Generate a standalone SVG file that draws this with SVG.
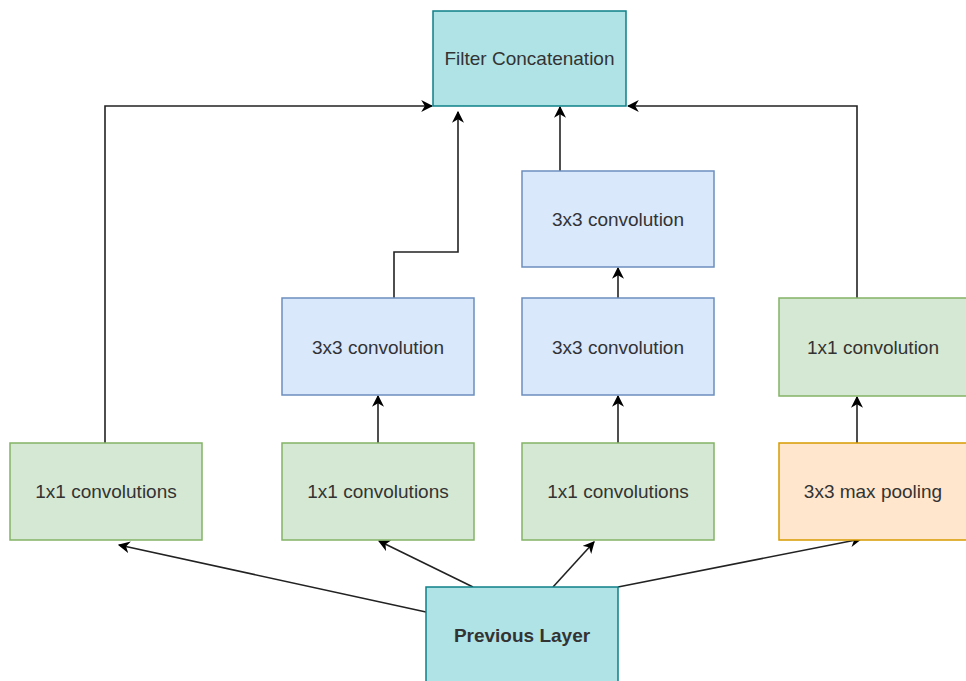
<svg xmlns="http://www.w3.org/2000/svg" width="966" height="681" viewBox="0 0 966 681">
<defs>
<marker id="ah" viewBox="0 0 10 10" refX="9" refY="5" markerWidth="12" markerHeight="12" markerUnits="userSpaceOnUse" orient="auto">
<path d="M0,0 L10,5 L0,10 L3,5 Z" fill="#000"/>
</marker>
</defs>
<style>
.t{font-family:"Liberation Sans",Arial,sans-serif;font-size:19px;fill:#333;text-anchor:middle;dominant-baseline:central}
.teal{fill:#b0e3e6;stroke:#0e8088;stroke-width:1.5}
.green{fill:#d5e8d4;stroke:#82b366;stroke-width:1.5}
.blue{fill:#dae8fc;stroke:#6c8ebf;stroke-width:1.5}
.orange{fill:#ffe6cc;stroke:#d79b00;stroke-width:1.5}
.c{fill:none;stroke:#222;stroke-width:1.6;marker-end:url(#ah)}
</style>
<rect width="966" height="681" fill="#fff"/>
<g id="connectors">
<path class="c" d="M105,443 V106 H432"/>
<path class="c" d="M394,298 V252 H458 V112"/>
<path class="c" d="M560,171 V107"/>
<path class="c" d="M857,298 V106 H628"/>
<path class="c" d="M378,443 V396"/>
<path class="c" d="M618,443 V396"/>
<path class="c" d="M618,298 V268"/>
<path class="c" d="M857,443 V397"/>
<path class="c" d="M426,612 L119,545"/>
<path class="c" d="M473,587 L379,541"/>
<path class="c" d="M553,587 L594,542"/>
<path class="c" d="M618,587 L861,539"/>
</g>
<g id="filter-concat"><rect class="teal" x="433" y="11" width="193" height="95"/><text class="t" x="529.5" y="58">Filter Concatenation</text></g>
<g id="conv3-mid-top"><rect class="blue" x="522" y="171" width="192" height="96"/><text class="t" x="618" y="219">3x3 convolution</text></g>
<g id="conv3-left"><rect class="blue" x="282" y="298" width="192" height="97"/><text class="t" x="378" y="347">3x3 convolution</text></g>
<g id="conv3-mid"><rect class="blue" x="522" y="298" width="192" height="97"/><text class="t" x="618" y="347">3x3 convolution</text></g>
<g id="conv1-right"><rect class="green" x="779" y="298" width="192" height="98"/><text class="t" x="873" y="347">1x1 convolution</text></g>
<g id="conv1-a"><rect class="green" x="10" y="443" width="192" height="97"/><text class="t" x="106" y="491">1x1 convolutions</text></g>
<g id="conv1-b"><rect class="green" x="282" y="443" width="192" height="97"/><text class="t" x="378" y="491">1x1 convolutions</text></g>
<g id="conv1-c"><rect class="green" x="522" y="443" width="192" height="97"/><text class="t" x="618" y="491">1x1 convolutions</text></g>
<g id="maxpool"><rect class="orange" x="779" y="443" width="192" height="97"/><text class="t" x="873" y="491">3x3 max pooling</text></g>
<g id="prev-layer"><rect class="teal" x="426" y="587" width="192" height="100"/><text class="t" x="522" y="635" font-weight="bold">Previous Layer</text></g>
</svg>
